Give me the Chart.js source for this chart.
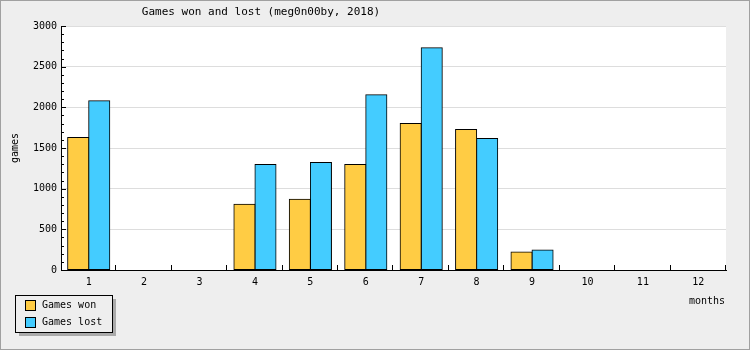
<!DOCTYPE html>
<html>
<head>
<meta charset="utf-8">
<script src="https://cdn.jsdelivr.net/npm/chart.js@4/dist/chart.umd.min.js"></script>
<style>
  html, body { margin: 0; padding: 0; background: #eeeeee; }
  canvas { display: block; }
</style>
</head>
<body>
<canvas id="c" width="750" height="350"></canvas>
<script>
const months = ["1","2","3","4","5","6","7","8","9","10","11","12"];
const gamesWon  = [1630, 0, 0, 808, 869, 1298, 1800, 1727, 220, 0, 0, 0];
const gamesLost = [2082, 0, 0, 1298, 1322, 2155, 2734, 1616, 245, 0, 0, 0];
const yTicks = [0, 500, 1000, 1500, 2000, 2500, 3000];

const FONT = "'DejaVu Sans Mono', 'Liberation Mono', monospace";

// page frame, white plot area, title, axis titles, tick marks, legend
const decor = {
  id: "decor",
  beforeDraw(chart) {
    const {ctx, chartArea: a} = chart;
    ctx.save();
    ctx.fillStyle = "#eeeeee";
    ctx.fillRect(0, 0, chart.width, chart.height);
    ctx.strokeStyle = "#a0a0a0";
    ctx.lineWidth = 1;
    ctx.strokeRect(0.5, 0.5, chart.width - 1, chart.height - 1);
    ctx.fillStyle = "#ffffff";
    ctx.fillRect(a.left, a.top, a.right - a.left, a.bottom - a.top);
    ctx.restore();
  },
  afterDraw(chart) {
    const {ctx, chartArea: a, scales} = chart;
    const x = scales.x, y = scales.y;
    ctx.save();
    ctx.fillStyle = "#000";
    ctx.textBaseline = "middle";

    ctx.font = "11px " + FONT;
    ctx.textAlign = "center";
    ctx.fillText("Games won and lost (meg0n00by, 2018)", 261, 12);

    ctx.font = "10px " + FONT;
    ctx.textAlign = "right";
    ctx.fillText("months", a.right - 1, 301);

    ctx.save();
    ctx.translate(15, 148);
    ctx.rotate(-Math.PI / 2);
    ctx.textAlign = "center";
    ctx.fillText("games", 0, 0);
    ctx.restore();

    // tick marks pointing into the plot
    ctx.strokeStyle = "#000";
    ctx.lineWidth = 1;
    ctx.beginPath();
    for (let v = 0; v <= 3000; v += 100) {
      const py = Math.round(y.getPixelForValue(v)) + 0.5;
      const len = v % 500 === 0 ? 5 : 3;
      ctx.moveTo(a.left, py);
      ctx.lineTo(a.left + len, py);
    }
    const step = (a.right - a.left) / months.length;
    for (let i = 1; i <= months.length; i++) {
      const px = Math.round(x.getPixelForValue(i - 1) + step / 2) - 0.5;
      ctx.moveTo(px, a.bottom);
      ctx.lineTo(px, a.bottom - 5);
    }
    ctx.stroke();

    // legend box with shadow
    const lx = 15.5, ly = 295.5, lw = 97, lh = 37;
    ctx.fillStyle = "#aaaaaa";
    ctx.fillRect(lx + 3.5, ly + 3.5, lw, lh);
    ctx.fillStyle = "#eeeeee";
    ctx.fillRect(lx, ly, lw, lh);
    ctx.strokeStyle = "#000";
    ctx.strokeRect(lx, ly, lw, lh);
    ctx.textAlign = "left";
    ctx.font = "10px " + FONT;
    chart.data.datasets.forEach((ds, i) => {
      const sy = 300.5 + i * 17;
      ctx.fillStyle = ds.backgroundColor;
      ctx.fillRect(25.5, sy, 10, 10);
      ctx.strokeRect(25.5, sy, 10, 10);
      ctx.fillStyle = "#000";
      ctx.fillText(ds.label, 42, sy + 5);
    });
    ctx.restore();
  }
};

new Chart(document.getElementById("c"), {
  type: "bar",
  data: {
    labels: months,
    datasets: [
      { label: "Games won",  data: gamesWon,  backgroundColor: "#ffcc44" },
      { label: "Games lost", data: gamesLost, backgroundColor: "#44ccff" }
    ]
  },
  options: {
    responsive: false,
    animation: false,
    devicePixelRatio: 1,
    layout: { padding: { left: 0, top: 26, right: 24, bottom: 0 } },
    datasets: {
      bar: {
        categoryPercentage: 0.76,
        barPercentage: 1.0,
        borderColor: "#000",
        borderWidth: 1,
        borderSkipped: false,
        inflateAmount: 0.5
      }
    },
    plugins: { legend: { display: false }, title: { display: false }, tooltip: { enabled: false } },
    scales: {
      x: {
        grid: { display: false, drawTicks: false },
        border: { display: true, color: "#000", width: 1 },
        ticks: { color: "#000", font: { family: FONT, size: 10 }, padding: 6, maxRotation: 0 },
        afterFit: s => { s.height = 80; }
      },
      y: {
        min: 0,
        max: 3000,
        afterBuildTicks: s => { s.ticks = yTicks.map(v => ({ value: v })); },
        grid: { color: "#dddddd", drawTicks: false },
        border: { display: true, color: "#000", width: 1 },
        ticks: { color: "#000", font: { family: FONT, size: 10 }, padding: 4, callback: v => String(v) },
        afterFit: s => { s.width = 61; }
      }
    }
  },
  plugins: [decor]
});
</script>
</body>
</html>
